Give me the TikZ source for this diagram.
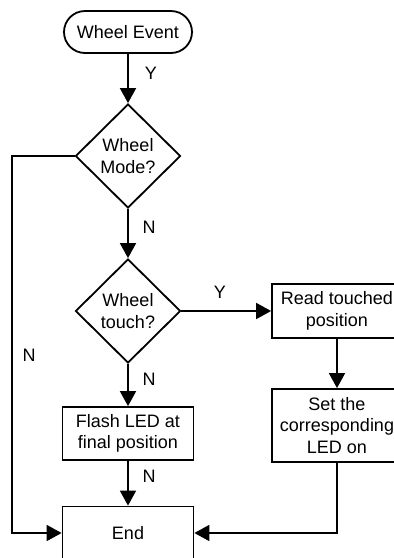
\documentclass[tikz,border=0pt]{standalone}
\usepackage{fontspec}
\setmainfont{Liberation Sans}
\usetikzlibrary{shapes.geometric,arrows.meta}
\begin{document}
\begin{tikzpicture}[x=1pt,y=-1pt,
  every node/.style={font=\fontsize{18}{21.5}\selectfont},
  base/.style={draw=black,line width=1.8pt,align=center,inner sep=0pt},
  term/.style={base,rounded corners=21pt,minimum width=128pt,minimum height=42pt},
  dec/.style={base,diamond,minimum width=105pt,minimum height=104pt},
  proc/.style={base,rectangle,minimum width=130pt},
  lbl/.style={inner sep=0pt},
  arr/.style={line width=1.8pt,-{Triangle[length=15pt,width=16pt]}},
  ln/.style={line width=1.8pt}]
\useasboundingbox (0,0) rectangle (394,558);
\clip (0,0) rectangle (394,558);
\node[term] (start) at (128,32) {Wheel Event};
\node[dec] (d1) at (128,156) {Wheel\\Mode?};
\node[dec] (d2) at (128,311) {Wheel\\touch?};
\node[proc,minimum height=54pt] (read) at (337,311) {Read touched\\position};
\node[proc,minimum height=73pt] (set) at (337,425.5) {Set the\\corresponding\\LED on};
\node[proc,minimum width=131pt,minimum height=53pt] (flash) at (128,433.5) {Flash LED at\\final position};
\node[proc,minimum width=131pt,minimum height=53pt] (end) at (128,533) {End};
\coordinate (corner) at (12,156);
\draw[arr] (start) -- (d1);
\draw[arr] (d1) -- (d2);
\draw[arr] (d2) -- (read);
\draw[arr] (read) -- (set);
\draw[arr] (d2) -- (flash);
\draw[arr] (flash) -- (end);
\draw[arr] (d1.west) -- (corner) |- (end.west);
\draw[arr] (set.south) |- (end.east);
\node[lbl] (l1) at (151,73) {Y};
\node[lbl] (l2) at (149,227) {N};
\node[lbl] (l3) at (220,292) {Y};
\node[lbl] (l4) at (29,355) {N};
\node[lbl] (l5) at (149,379) {N};
\node[lbl] (l6) at (149,476) {N};
\end{tikzpicture}
\end{document}
